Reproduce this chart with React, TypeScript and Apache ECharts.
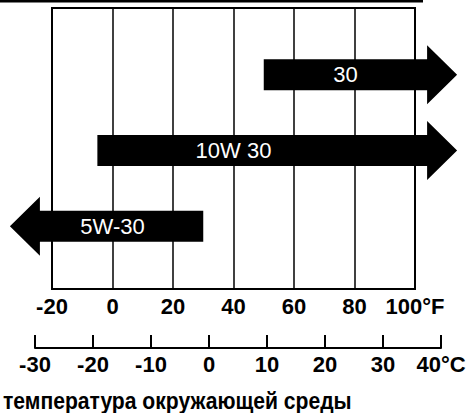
import React, { useEffect, useRef } from "react";
import * as echarts from "echarts";

// Oil grades and their recommended ambient temperature ranges (°F)
const grades = ["30", "10W 30", "5W-30"];
const shaftStartF = [50, -5, 30];
const shaftEndF = [104, 104, -24];
const labelAtF = [77, 40, 0];
const rows = [1, 2, 3];

const fahrenheitTicks = { min: -20, max: 100, step: 20 };
const celsiusTicks = { min: -30, max: 40, step: 10 };
const titleText = "температура окружающей среды";

const FONT = "'Liberation Sans', Arial, Helvetica, sans-serif";

export default function App() {
  const ref = useRef<HTMLDivElement>(null);

  useEffect(() => {
    if (!ref.current) return;
    const chart = echarts.init(ref.current, null, { renderer: "svg" });

    const data = grades.map((g, i) => [shaftStartF[i], shaftEndF[i], rows[i], labelAtF[i]]);

    const renderItem = (params: any, api: any) => {
      const x0 = api.coord([api.value(0), api.value(2)])[0];
      const x1 = api.coord([api.value(1), api.value(2)])[0];
      const y = api.coord([api.value(0), api.value(2)])[1];
      const lx = api.coord([api.value(3), api.value(2)])[0];
      const dir = x1 >= x0 ? 1 : -1;
      const sh = 15.5;
      const hh = 29.5;
      const hl = 30;
      const tip = x1 + dir * hl;
      return {
        type: "group",
        children: [
          {
            type: "polygon",
            shape: {
              points: [
                [x0, y - sh],
                [x1, y - sh],
                [x1, y - hh],
                [tip, y],
                [x1, y + hh],
                [x1, y + sh],
                [x0, y + sh],
              ],
            },
            style: { fill: "#000" },
          },
          {
            type: "text",
            style: {
              text: grades[params.dataIndex],
              x: lx,
              y: y,
              align: "center",
              verticalAlign: "middle",
              fill: "#fff",
              fontSize: 22,
              fontFamily: FONT,
            },
          },
        ],
      };
    };

    const option: any = {
      animation: false,
      backgroundColor: "#fff",
      grid: [
        {
          left: 52,
          right: 55,
          top: 8,
          bottom: 124,
          show: true,
          borderColor: "#000",
          borderWidth: 2,
          backgroundColor: "transparent",
        },
        { left: 35, right: 29, top: 330, bottom: 65 },
      ],
      xAxis: [
        {
          type: "value",
          gridIndex: 0,
          min: fahrenheitTicks.min,
          max: fahrenheitTicks.max,
          interval: fahrenheitTicks.step,
          axisLine: { show: true, lineStyle: { color: "#000", width: 2 } },
          axisTick: { show: false },
          splitLine: { show: true, lineStyle: { color: "#000", width: 1.5 } },
          axisLabel: {
            margin: 6,
            color: "#000",
            fontSize: 22,
            fontWeight: "bold",
            fontFamily: FONT,
            formatter: (v: number) => (v === fahrenheitTicks.max ? v + "°F" : String(v)),
          },
        },
        {
          type: "value",
          gridIndex: 1,
          min: celsiusTicks.min,
          max: celsiusTicks.max,
          interval: celsiusTicks.step,
          position: "bottom",
          axisLine: { show: true, lineStyle: { color: "#000", width: 2 } },
          axisTick: { show: true, inside: true, length: 13, lineStyle: { color: "#000", width: 2 } },
          splitLine: { show: false },
          axisLabel: {
            margin: 5,
            color: "#000",
            fontSize: 22,
            fontWeight: "bold",
            fontFamily: FONT,
            formatter: (v: number) => (v === celsiusTicks.max ? v + "°C" : String(v)),
          },
        },
      ],
      yAxis: [
        { type: "value", gridIndex: 0, min: 0.12, max: 3.83, inverse: true, show: false },
        { type: "value", gridIndex: 1, min: 0, max: 1, show: false },
      ],
      graphic: [
        {
          type: "line",
          shape: { x1: 0, y1: 1, x2: 423, y2: 1 },
          style: { stroke: "#000", lineWidth: 3 },
        },
        {
          type: "text",
          x: 3,
          y: 401,
          scaleX: 0.88,
          style: {
            text: titleText,
            fontSize: 24,
            fontWeight: "bold",
            fontFamily: FONT,
            fill: "#000",
            verticalAlign: "middle",
            align: "left",
          },
        },
      ],
      series: [
        {
          type: "custom",
          xAxisIndex: 0,
          yAxisIndex: 0,
          clip: false,
          renderItem,
          data,
        },
      ],
    };

    chart.setOption(option);
    return () => chart.dispose();
  }, []);

  return (
    <div
      ref={ref}
      style={{ position: "fixed", left: 0, top: 0, width: 470, height: 413, background: "#fff" }}
    />
  );
}
